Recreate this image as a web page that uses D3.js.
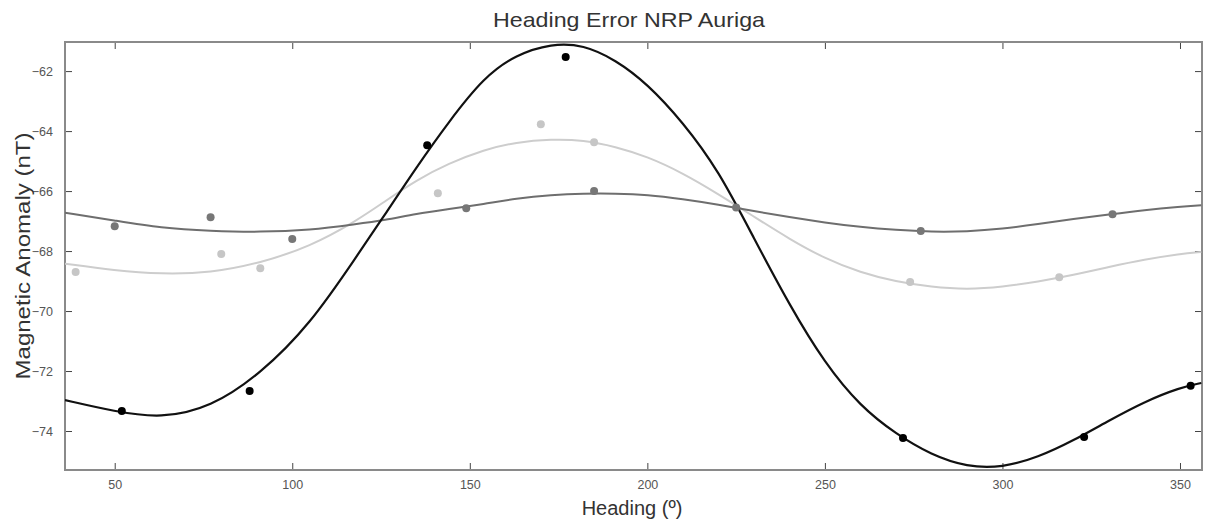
<!DOCTYPE html>
<html>
<head>
<meta charset="utf-8">
<script src="https://cdn.jsdelivr.net/npm/d3@7"></script>
<style>
  body { margin: 0; background: #fff; }
  text { font-family: "Liberation Sans", Arial, sans-serif; }
</style>
</head>
<body>
<div id="chart"></div>
<script>
// Heading grid used for the fitted curves
const fitHeading = [36, 50, 63, 77, 91, 105, 118, 126, 135, 144, 154, 163, 173, 182, 191, 200,
  210, 220, 230, 240, 250, 260, 270, 280, 290, 300, 310, 320, 330, 340, 350, 356];

const fitBlack = [-72.97, -73.35, -73.58, -73.22, -72.1, -70.45, -68.2, -66.8, -65.2, -63.7, -62.2,
  -61.45, -61.08, -61.12, -61.62, -62.42, -63.7, -65.3, -67.57, -69.8, -71.75, -73.18, -74.1,
  -74.8, -75.2, -75.22, -74.88, -74.32, -73.65, -73.02, -72.55, -72.4];

const fitDark = [-66.72, -66.98, -67.23, -67.33, -67.37, -67.3, -67.1, -66.97, -66.75, -66.6, -66.43,
  -66.25, -66.13, -66.08, -66.08, -66.12, -66.27, -66.45, -66.67, -66.87, -67.05, -67.2, -67.3,
  -67.36, -67.35, -67.26, -67.1, -66.93, -66.78, -66.63, -66.52, -66.47];

const fitLight = [-68.42, -68.65, -68.77, -68.73, -68.4, -67.85, -67.0, -66.35, -65.63, -65.08, -64.62,
  -64.37, -64.27, -64.3, -64.52, -64.85, -65.4, -66.1, -66.85, -67.6, -68.25, -68.72, -69.02,
  -69.2, -69.28, -69.2, -69.02, -68.8, -68.53, -68.28, -68.1, -68.03];

// Measured points
const blackHeading = [52, 88, 138, 177, 272, 323, 353];
const blackValue = [-73.33, -72.67, -64.47, -61.53, -74.23, -74.2, -72.49];

const darkHeading = [50, 77, 100, 149, 185, 225, 277, 331];
const darkValue = [-67.17, -66.87, -67.6, -66.57, -66.0, -66.55, -67.33, -66.77];

const lightHeading = [39, 80, 91, 141, 170, 185, 274, 316];
const lightValue = [-68.7, -68.1, -68.57, -66.07, -63.77, -64.37, -69.03, -68.87];

const xTicks = [50, 100, 150, 200, 250, 300, 350];
const yTicks = [-62, -64, -66, -68, -70, -72, -74];

const width = 1205, height = 522;
const margin = { top: 42, right: 3, bottom: 52, left: 65 };

const svg = d3.select('#chart').append('svg')
  .attr('width', width)
  .attr('height', height);

const x = d3.scaleLinear().domain([36, 356.2]).range([margin.left, width - margin.right]);
const y = d3.scaleLinear().domain([-75.3, -61.03]).range([height - margin.bottom, margin.top]);

// clip for curves
svg.append('clipPath').attr('id', 'plot-clip')
  .append('rect')
  .attr('x', margin.left).attr('y', margin.top)
  .attr('width', x.range()[1] - margin.left)
  .attr('height', y.range()[0] - margin.top);

const tickColor = '#555';

// Axes, ticks pointing inward
const bottomAxis = svg.append('g')
  .attr('transform', `translate(0,${y.range()[0]})`)
  .call(d3.axisBottom(x).tickValues(xTicks).tickSizeInner(-7).tickSizeOuter(0).tickPadding(10));
const topAxis = svg.append('g')
  .attr('transform', `translate(0,${margin.top})`)
  .call(d3.axisTop(x).tickValues(xTicks).tickSizeInner(-7).tickSizeOuter(0).tickFormat(''));
const leftAxis = svg.append('g')
  .attr('transform', `translate(${margin.left},0)`)
  .call(d3.axisLeft(y).tickValues(yTicks).tickSizeInner(-7).tickSizeOuter(0).tickPadding(12));
const rightAxis = svg.append('g')
  .attr('transform', `translate(${x.range()[1]},0)`)
  .call(d3.axisRight(y).tickValues(yTicks).tickSizeInner(-7).tickSizeOuter(0).tickFormat(''));

[bottomAxis, topAxis, leftAxis, rightAxis].forEach(a => {
  a.select('.domain').remove();
  a.selectAll('.tick line').attr('stroke', '#444').attr('stroke-width', 1);
  a.selectAll('.tick text')
    .attr('fill', tickColor)
    .style('font-size', '12.5px');
});

// frame
svg.append('rect')
  .attr('x', margin.left).attr('y', margin.top)
  .attr('width', x.range()[1] - margin.left)
  .attr('height', y.range()[0] - margin.top)
  .attr('fill', 'none')
  .attr('stroke', '#8a8a8a')
  .attr('stroke-width', 2);

const line = d3.line()
  .x(d => x(d[0]))
  .y(d => y(d[1]))
  .curve(d3.curveBasis);

const series = [
  { fit: fitLight, hx: lightHeading, hv: lightValue, color: '#cdcdcd', dot: '#c6c6c6', w: 2 },
  { fit: fitDark, hx: darkHeading, hv: darkValue, color: '#6e6e6e', dot: '#777', w: 2 },
  { fit: fitBlack, hx: blackHeading, hv: blackValue, color: '#111', dot: '#000', w: 2.2 }
];

const plot = svg.append('g').attr('clip-path', 'url(#plot-clip)');

series.forEach(s => {
  plot.append('path')
    .datum(fitHeading.map((h, i) => [h, s.fit[i]]))
    .attr('fill', 'none')
    .attr('stroke', s.color)
    .attr('stroke-width', s.w)
    .attr('d', line);
});

series.forEach(s => {
  plot.selectAll(null)
    .data(s.hx.map((h, i) => [h, s.hv[i]]))
    .join('circle')
    .attr('cx', d => x(d[0]))
    .attr('cy', d => y(d[1]))
    .attr('r', 4)
    .attr('fill', s.dot);
});

// Title and axis labels
svg.append('text')
  .attr('x', 629).attr('y', 27)
  .attr('text-anchor', 'middle')
  .attr('fill', '#333')
  .style('font-size', '21px')
  .attr('textLength', 272)
  .attr('lengthAdjust', 'spacingAndGlyphs')
  .text('Heading Error NRP Auriga');

svg.append('text')
  .attr('x', 632).attr('y', 515)
  .attr('text-anchor', 'middle')
  .attr('fill', '#333')
  .style('font-size', '20px')
  .text('Heading (º)');

svg.append('text')
  .attr('transform', 'translate(30,256) rotate(-90)')
  .attr('text-anchor', 'middle')
  .attr('fill', '#333')
  .style('font-size', '21px')
  .attr('textLength', 247)
  .attr('lengthAdjust', 'spacingAndGlyphs')
  .text('Magnetic Anomaly (nT)');
</script>
</body>
</html>
